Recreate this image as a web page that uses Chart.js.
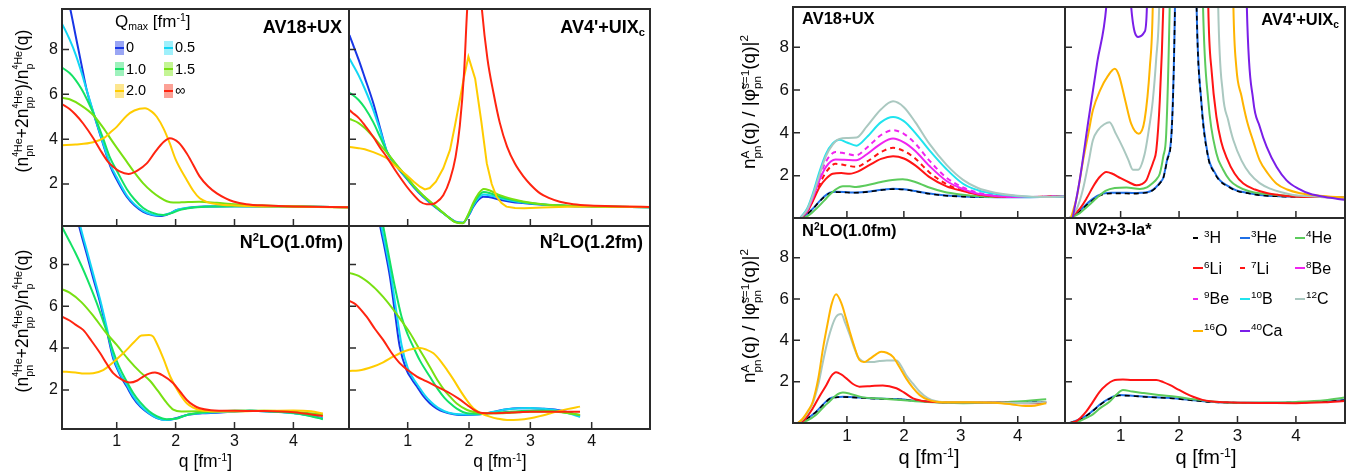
<!DOCTYPE html>
<html><head><meta charset="utf-8">
<script src="https://cdn.jsdelivr.net/npm/chart.js@4.4.1/dist/chart.umd.min.js"></script>
<style>
body{margin:0;width:1354px;height:473px;background:#fff;position:relative;overflow:hidden;font-family:"Liberation Sans",Arial,sans-serif;color:#000;}
.t{position:absolute;white-space:nowrap;line-height:1;}
.t sup{font-size:0.62em;vertical-align:0.6em;line-height:0;}
.t sub{font-size:0.62em;vertical-align:-0.25em;line-height:0;}
.ss{display:inline-block;vertical-align:-0.5em;font-size:0.62em;line-height:1.05;text-align:left;}
.ss>span{display:block;}
.s4{font-size:0.78em;vertical-align:0.45em;line-height:0;}
.sw{position:absolute;}
</style></head><body>
<div id="charts"></div>
<script>
// ---------- tick labels / categories ----------
const X_TICKS = [1, 2, 3, 4];
const Y_TICKS = [2, 4, 6, 8];
const QMAX_LABELS = ['0', '0.5', '1.0', '1.5', '2.0', '\u221e'];
const NUC_A = ['3', '3', '4', '6', '7', '8', '9', '10', '12', '16', '40'];
const NUC_SYM = ['H', 'He', 'He', 'Li', 'Li', 'Be', 'Be', 'B', 'C', 'O', 'Ca'];
const LEFT_TITLES = ['AV18+UX', "AV4'+UIX<sub>c</sub>", 'N<sup>2</sup>LO(1.0fm)', 'N<sup>2</sup>LO(1.2fm)'];
const RIGHT_TITLES = ['AV18+UX', "AV4'+UIX<sub>c</sub>", 'N<sup>2</sup>LO(1.0fm)', 'NV2+3-Ia*'];

// ---------- left figure: AV18+UX ----------
const L_AV18_Q0 = [[0.07,11.3],[0.2,9.95],[0.3,8.65],[0.4,7.35],[0.49,6.2],[0.63,4.95],[0.76,3.85],[0.89,2.8],[1.0,2.2],[1.17,1.43],[1.3,1.05],[1.45,0.76],[1.6,0.62],[1.74,0.57],[1.88,0.66],[2.02,0.84],[2.2,0.93],[2.5,0.99],[3.0,1.01],[4.0,1.0],[4.95,0.96]];
const L_AV18_Q05 = [[0.07,9.15],[0.12,8.9],[0.2,8.45],[0.3,7.8],[0.4,7.0],[0.5,6.1],[0.63,4.98],[0.76,3.9],[0.89,2.88],[1.0,2.3],[1.17,1.5],[1.3,1.1],[1.45,0.8],[1.6,0.64],[1.76,0.6],[1.9,0.69],[2.03,0.85],[2.2,0.94],[2.5,0.99],[3.0,1.01],[4.0,1.0],[4.95,0.96]];
const L_AV18_Q10 = [[0.07,7.2],[0.2,6.95],[0.3,6.65],[0.4,6.25],[0.5,5.75],[0.63,5.0],[0.76,4.1],[0.89,3.15],[1.0,2.6],[1.17,1.78],[1.3,1.32],[1.45,0.93],[1.6,0.72],[1.79,0.62],[1.95,0.72],[2.1,0.86],[2.3,0.95],[2.6,1.0],[3.0,1.01],[4.0,1.0],[4.95,0.96]];
const L_AV18_Q15 = [[0.07,5.85],[0.2,5.78],[0.4,5.5],[0.6,5.08],[0.8,4.4],[0.9,4.0],[1.0,3.62],[1.17,3.0],[1.3,2.52],[1.45,2.03],[1.6,1.65],[1.73,1.4],[1.85,1.23],[1.96,1.17],[2.1,1.18],[2.4,1.21],[2.7,1.16],[3.0,1.1],[3.5,1.04],[4.0,1.0],[4.95,0.96]];
const L_AV18_Q20 = [[0.07,3.73],[0.3,3.76],[0.6,3.86],[0.8,4.08],[0.89,4.3],[1.0,4.55],[1.17,5.05],[1.3,5.28],[1.48,5.38],[1.6,5.22],[1.68,5.0],[1.8,4.45],[1.9,3.82],[2.0,3.1],[2.19,2.18],[2.3,1.7],[2.41,1.36],[2.55,1.18],[2.7,1.1],[3.0,1.04],[3.5,1.0],[4.0,0.99],[4.95,0.95]];
const L_AV18_QINF = [[0.07,5.57],[0.2,5.35],[0.3,5.1],[0.43,4.7],[0.6,4.05],[0.72,3.52],[0.85,3.0],[0.94,2.77],[1.05,2.56],[1.2,2.45],[1.35,2.6],[1.51,2.92],[1.65,3.42],[1.8,3.88],[1.9,4.04],[2.05,3.85],[2.19,3.36],[2.3,2.85],[2.41,2.33],[2.55,1.9],[2.7,1.58],[2.85,1.36],[2.98,1.22],[3.2,1.1],[3.55,1.04],[4.0,1.0],[4.95,0.96]];

// ---------- left figure: AV4'+UIXc ----------
const L_AV4_Q0 = [[0.05,8.65],[0.09,8.35],[0.2,7.55],[0.3,6.75],[0.44,5.6],[0.55,4.5],[0.66,3.45],[0.8,2.85],[0.98,2.25],[1.1,1.85],[1.25,1.43],[1.4,1.08],[1.53,0.8],[1.65,0.55],[1.77,0.33],[1.9,0.27],[2.0,0.62],[2.07,0.99],[2.15,1.28],[2.23,1.43],[2.32,1.42],[2.5,1.3],[2.7,1.2],[2.88,1.15],[3.2,1.07],[3.6,1.02],[4.0,1.0],[4.95,0.96]];
const L_AV4_Q05 = [[0.05,7.6],[0.09,7.4],[0.2,6.85],[0.3,6.25],[0.44,5.3],[0.55,4.4],[0.66,3.45],[0.8,2.87],[0.98,2.28],[1.1,1.88],[1.25,1.46],[1.4,1.1],[1.53,0.81],[1.65,0.55],[1.77,0.32],[1.9,0.27],[2.0,0.65],[2.07,1.04],[2.15,1.36],[2.24,1.53],[2.33,1.5],[2.5,1.37],[2.7,1.25],[2.88,1.17],[3.2,1.08],[3.6,1.02],[4.0,1.0],[4.95,0.96]];
const L_AV4_Q10 = [[0.05,6.07],[0.09,6.0],[0.2,5.75],[0.3,5.4],[0.44,4.75],[0.55,4.1],[0.66,3.45],[0.8,2.9],[0.98,2.3],[1.1,1.9],[1.25,1.48],[1.4,1.12],[1.53,0.82],[1.65,0.55],[1.77,0.31],[1.9,0.26],[2.0,0.68],[2.07,1.1],[2.15,1.45],[2.24,1.64],[2.33,1.6],[2.5,1.43],[2.7,1.29],[2.88,1.2],[3.2,1.09],[3.6,1.03],[4.0,1.0],[4.95,0.96]];
const L_AV4_Q15 = [[0.05,4.9],[0.09,4.86],[0.2,4.72],[0.3,4.5],[0.44,4.1],[0.55,3.75],[0.66,3.4],[0.8,2.92],[0.98,2.33],[1.1,1.93],[1.25,1.5],[1.4,1.14],[1.53,0.83],[1.65,0.55],[1.77,0.3],[1.9,0.25],[2.0,0.72],[2.07,1.17],[2.15,1.55],[2.24,1.78],[2.33,1.72],[2.5,1.5],[2.7,1.33],[2.88,1.22],[3.2,1.1],[3.6,1.03],[4.0,1.0],[4.95,0.96]];
const L_AV4_Q20 = [[0.05,3.65],[0.09,3.64],[0.2,3.6],[0.3,3.55],[0.44,3.42],[0.55,3.3],[0.66,3.15],[0.8,2.8],[0.98,2.4],[1.1,2.1],[1.2,1.88],[1.28,1.76],[1.36,1.82],[1.46,2.1],[1.58,2.7],[1.69,3.52],[1.77,4.6],[1.85,5.75],[1.92,6.8],[1.99,7.68],[2.1,6.7],[2.2,4.8],[2.29,2.92],[2.37,2.0],[2.45,1.43],[2.53,1.15],[2.61,0.99],[2.75,0.93],[2.9,0.92],[3.2,0.95],[3.6,0.98],[4.0,0.99],[4.95,0.97]];
const L_AV4_QINF = [[0.05,5.3],[0.09,5.2],[0.2,4.95],[0.3,4.62],[0.44,4.1],[0.55,3.62],[0.66,3.2],[0.8,2.6],[0.98,1.9],[1.1,1.5],[1.2,1.22],[1.31,1.1],[1.4,1.1],[1.46,1.17],[1.58,1.5],[1.69,2.2],[1.78,3.2],[1.85,4.6],[1.92,7.0],[1.97,9.8],[2.05,12.5],[2.15,12.0],[2.21,9.8],[2.3,7.6],[2.4,6.05],[2.5,4.75],[2.62,3.67],[2.75,2.9],[2.89,2.33],[3.0,1.98],[3.16,1.58],[3.3,1.38],[3.48,1.21],[3.7,1.1],[3.97,1.04],[4.5,1.0],[4.95,0.97]];

// ---------- left figure: N2LO(1.0fm) ----------
const L_N10_Q0 = [[0.3,10.6],[0.36,9.85],[0.5,8.4],[0.6,7.35],[0.72,6.15],[0.83,4.85],[0.94,3.5],[1.05,2.75],[1.17,2.16],[1.28,1.62],[1.4,1.2],[1.55,0.86],[1.68,0.65],[1.85,0.56],[2.0,0.64],[2.19,0.8],[2.45,0.88],[2.7,0.91],[3.0,0.96],[3.26,1.0],[3.6,0.97],[4.0,0.9],[4.25,0.8],[4.5,0.63]];
const L_N10_Q05 = [[0.3,10.9],[0.38,9.85],[0.5,8.6],[0.6,7.55],[0.72,6.3],[0.83,5.0],[0.94,3.62],[1.05,2.82],[1.17,2.25],[1.28,1.7],[1.4,1.26],[1.55,0.88],[1.68,0.66],[1.82,0.56],[2.0,0.62],[2.19,0.8],[2.45,0.89],[2.7,0.93],[3.0,0.97],[3.26,1.0],[3.6,0.97],[4.0,0.88],[4.25,0.78],[4.5,0.62]];
const L_N10_Q10 = [[0.07,9.8],[0.2,9.1],[0.3,8.55],[0.4,7.95],[0.5,7.3],[0.6,6.6],[0.72,5.7],[0.83,4.8],[0.94,3.85],[1.05,3.05],[1.17,2.4],[1.28,1.85],[1.4,1.4],[1.55,0.98],[1.68,0.75],[1.85,0.6],[2.0,0.62],[2.19,0.8],[2.45,0.92],[2.7,0.97],[3.0,1.0],[3.3,1.0],[3.6,0.97],[4.0,0.9],[4.25,0.78],[4.5,0.6]];
const L_N10_Q15 = [[0.07,6.82],[0.2,6.65],[0.4,6.2],[0.6,5.55],[0.8,4.8],[1.0,4.15],[1.2,3.45],[1.4,2.85],[1.56,2.45],[1.7,1.95],[1.85,1.38],[1.96,1.06],[2.1,0.97],[2.5,0.98],[3.0,1.0],[3.5,1.0],[4.0,0.95],[4.5,0.82]];
const L_N10_Q20 = [[0.07,2.88],[0.3,2.83],[0.45,2.78],[0.6,2.8],[0.77,2.95],[0.95,3.35],[1.11,3.75],[1.3,4.3],[1.42,4.6],[1.55,4.63],[1.62,4.55],[1.68,4.23],[1.8,3.45],[1.91,2.63],[2.05,1.9],[2.19,1.36],[2.3,1.15],[2.41,1.04],[2.7,0.97],[3.0,0.97],[3.5,1.0],[4.0,1.02],[4.3,0.98],[4.5,0.87]];
const L_N10_QINF = [[0.07,5.51],[0.2,5.32],[0.3,5.12],[0.43,4.87],[0.57,4.35],[0.72,3.75],[0.83,3.25],[0.94,2.8],[1.08,2.5],[1.22,2.35],[1.35,2.45],[1.45,2.64],[1.55,2.78],[1.65,2.83],[1.78,2.7],[1.96,2.32],[2.08,1.9],[2.19,1.52],[2.3,1.27],[2.41,1.12],[2.6,1.03],[3.0,1.0],[3.5,0.99],[4.0,0.93],[4.5,0.75]];

// ---------- left figure: N2LO(1.2fm) ----------
const L_N12_Q0 = [[0.45,11.5],[0.55,9.85],[0.63,8.7],[0.71,7.42],[0.79,5.75],[0.87,4.07],[0.98,2.96],[1.07,2.5],[1.15,2.16],[1.25,1.72],[1.36,1.36],[1.47,1.12],[1.58,0.96],[1.75,0.84],[1.91,0.8],[2.18,0.83],[2.4,0.95],[2.62,1.08],[2.8,1.12],[3.0,1.12],[3.2,1.1],[3.44,1.04],[3.6,0.94],[3.81,0.75]];
const L_N12_Q05 = [[0.47,11.5],[0.57,9.85],[0.65,8.7],[0.73,7.45],[0.81,5.85],[0.9,4.15],[1.0,3.05],[1.09,2.55],[1.17,2.2],[1.27,1.78],[1.38,1.42],[1.49,1.15],[1.6,0.98],[1.75,0.86],[1.91,0.82],[2.18,0.84],[2.4,0.95],[2.62,1.07],[2.8,1.12],[3.0,1.13],[3.2,1.1],[3.44,1.02],[3.6,0.9],[3.81,0.7]];
const L_N12_Q10 = [[0.5,11.5],[0.6,9.85],[0.7,8.3],[0.8,6.8],[0.9,5.5],[1.0,4.65],[1.09,4.07],[1.2,3.4],[1.36,2.64],[1.5,2.0],[1.6,1.62],[1.69,1.36],[1.8,1.1],[1.97,0.88],[2.2,0.86],[2.5,0.92],[2.8,0.98],[3.0,1.0],[3.2,1.0],[3.44,0.97],[3.6,0.9],[3.81,0.8]];
const L_N12_Q15 = [[0.05,7.6],[0.2,7.45],[0.44,6.94],[0.6,6.45],[0.77,5.83],[0.9,5.3],[1.04,4.71],[1.2,3.9],[1.36,3.11],[1.5,2.4],[1.6,1.98],[1.69,1.68],[1.8,1.35],[1.97,1.04],[2.2,0.9],[2.45,0.88],[2.8,0.93],[3.0,0.96],[3.3,0.97],[3.6,0.9],[3.81,0.8]];
const L_N12_Q20 = [[0.05,2.91],[0.2,2.93],[0.44,3.12],[0.6,3.32],[0.77,3.6],[0.95,3.85],[1.1,3.97],[1.2,4.0],[1.3,3.93],[1.42,3.75],[1.53,3.4],[1.64,2.96],[1.75,2.48],[1.85,2.0],[1.96,1.52],[2.07,1.12],[2.2,0.88],[2.34,0.72],[2.47,0.62],[2.62,0.56],[2.8,0.57],[3.0,0.64],[3.2,0.78],[3.43,0.96],[3.6,1.08],[3.81,1.2]];
const L_N12_QINF = [[0.05,6.26],[0.15,6.1],[0.33,5.5],[0.47,4.9],[0.6,4.39],[0.73,3.8],[0.87,3.28],[1.0,2.95],[1.15,2.64],[1.3,2.42],[1.42,2.24],[1.55,2.05],[1.69,1.84],[1.83,1.58],[1.97,1.28],[2.08,1.05],[2.18,0.91],[2.4,0.88],[2.7,0.92],[3.0,0.95],[3.4,0.96],[3.81,0.96]];

// ---------- right figure: AV18+UX ----------
const R_AV18_H3 = [[0.18,0.02],[0.3,0.19],[0.4,0.44],[0.5,0.74],[0.6,1.0],[0.7,1.18],[0.8,1.23],[0.95,1.22],[1.1,1.2],[1.25,1.21],[1.45,1.27],[1.65,1.34],[1.81,1.37],[2.0,1.35],[2.2,1.27],[2.45,1.15],[2.7,1.07],[3.04,1.02],[3.4,1.0],[4.0,0.99],[4.4,1.0],[4.83,1.04]];
const R_AV18_HE3 = [[0.18,0.02],[0.3,0.2],[0.4,0.45],[0.5,0.75],[0.6,1.02],[0.7,1.2],[0.8,1.25],[0.95,1.24],[1.1,1.21],[1.25,1.22],[1.45,1.28],[1.65,1.35],[1.81,1.39],[2.0,1.36],[2.2,1.28],[2.45,1.16],[2.7,1.08],[3.04,1.03],[3.4,1.0],[4.0,0.99],[4.4,1.0],[4.83,1.04]];
const R_AV18_HE4 = [[0.18,0.02],[0.3,0.1],[0.4,0.3],[0.5,0.55],[0.6,0.83],[0.7,1.12],[0.8,1.35],[0.93,1.5],[1.05,1.5],[1.16,1.47],[1.35,1.55],[1.6,1.7],[1.8,1.8],[1.98,1.83],[2.2,1.7],[2.42,1.47],[2.7,1.25],[3.0,1.12],[3.3,1.04],[3.7,1.0],[4.2,1.0],[4.83,1.04]];
const R_AV18_LI6 = [[0.18,0.02],[0.3,0.3],[0.4,0.8],[0.52,1.47],[0.63,1.85],[0.75,2.09],[0.9,2.12],[1.05,2.09],[1.2,2.2],[1.4,2.5],[1.6,2.78],[1.81,2.9],[2.0,2.8],[2.2,2.48],[2.45,1.93],[2.75,1.5],[3.04,1.28],[3.3,1.12],[3.6,1.03],[4.0,1.0],[4.83,1.03]];
const R_AV18_LI7 = [[0.18,0.02],[0.3,0.32],[0.4,0.85],[0.52,1.6],[0.63,2.15],[0.8,2.55],[0.95,2.5],[1.16,2.41],[1.35,2.65],[1.6,3.1],[1.81,3.3],[2.0,3.15],[2.2,2.8],[2.45,2.15],[2.75,1.6],[3.04,1.3],[3.3,1.13],[3.6,1.04],[4.0,1.0],[4.83,1.03]];
const R_AV18_BE8 = [[0.18,0.02],[0.3,0.35],[0.4,0.95],[0.52,1.8],[0.63,2.4],[0.8,2.75],[0.95,2.74],[1.16,2.72],[1.35,3.0],[1.6,3.5],[1.81,3.73],[2.0,3.55],[2.2,3.15],[2.45,2.45],[2.75,1.75],[3.04,1.37],[3.3,1.15],[3.6,1.05],[4.0,1.0],[4.83,1.03]];
const R_AV18_BE9 = [[0.18,0.02],[0.3,0.4],[0.4,1.0],[0.52,1.95],[0.63,2.65],[0.8,3.1],[0.95,3.05],[1.16,2.95],[1.35,3.3],[1.6,3.9],[1.81,4.12],[2.0,3.95],[2.2,3.5],[2.45,2.7],[2.75,1.9],[3.04,1.45],[3.3,1.2],[3.6,1.07],[4.0,1.0],[4.83,1.03]];
const R_AV18_B10 = [[0.18,0.02],[0.3,0.45],[0.4,1.15],[0.52,2.2],[0.63,3.0],[0.75,3.5],[0.87,3.68],[1.0,3.55],[1.17,3.4],[1.35,3.8],[1.6,4.5],[1.81,4.74],[2.0,4.55],[2.2,4.0],[2.45,3.18],[2.75,2.3],[3.04,1.62],[3.3,1.32],[3.6,1.15],[4.0,1.04],[4.5,1.0],[4.83,1.03]];
const R_AV18_C12 = [[0.18,0.02],[0.3,0.4],[0.4,1.05],[0.52,2.05],[0.63,2.9],[0.75,3.45],[0.87,3.72],[1.0,3.76],[1.17,3.78],[1.35,4.3],[1.6,5.1],[1.81,5.47],[2.0,5.2],[2.2,4.5],[2.45,3.48],[2.75,2.5],[3.04,1.8],[3.3,1.42],[3.6,1.2],[4.0,1.06],[4.5,1.0],[4.83,1.02]];

// ---------- right figure: AV4'+UIXc ----------
const R_AV4_H3 = [[0.125,0.02],[0.3,0.32],[0.45,0.7],[0.6,1.0],[0.7,1.12],[0.85,1.17],[1.0,1.17],[1.2,1.16],[1.35,1.18],[1.5,1.24],[1.6,1.42],[1.68,1.67],[1.73,1.88],[1.8,2.75],[1.87,3.9],[1.93,9.9],[1.97,20],[2.25,20],[2.3,9.9],[2.38,5.45],[2.5,2.82],[2.6,2.15],[2.7,1.75],[2.85,1.47],[2.98,1.29],[3.2,1.17],[3.38,1.09],[3.7,1.03],[3.95,1.01],[4.4,1.0],[4.83,0.98]];
const R_AV4_HE3 = [[0.125,0.02],[0.3,0.35],[0.45,0.75],[0.6,1.05],[0.7,1.16],[0.85,1.2],[1.0,1.2],[1.2,1.19],[1.35,1.2],[1.5,1.26],[1.6,1.45],[1.68,1.7],[1.73,1.9],[1.8,2.8],[1.87,3.96],[1.93,9.9],[1.97,20],[2.25,20],[2.3,9.9],[2.38,5.5],[2.5,2.87],[2.6,2.2],[2.7,1.78],[2.85,1.5],[2.98,1.31],[3.2,1.18],[3.38,1.1],[3.7,1.04],[3.95,1.02],[4.4,1.0],[4.83,0.98]];
const R_AV4_HE4 = [[0.15,0.02],[0.3,0.25],[0.45,0.6],[0.6,0.98],[0.75,1.3],[0.9,1.42],[1.1,1.45],[1.33,1.38],[1.45,1.45],[1.55,1.65],[1.62,1.85],[1.67,2.09],[1.73,2.9],[1.78,3.96],[1.84,9.9],[1.9,20],[2.35,20],[2.41,9.9],[2.5,5.5],[2.64,3.03],[2.75,2.3],[2.87,1.78],[3.0,1.5],[3.2,1.27],[3.4,1.16],[3.66,1.1],[4.0,1.04],[4.4,1.01],[4.83,0.98]];
const R_AV4_LI6 = [[0.13,0.02],[0.3,0.45],[0.42,0.95],[0.525,1.47],[0.63,1.9],[0.755,2.17],[0.85,2.1],[1.0,1.88],[1.15,1.68],[1.27,1.55],[1.36,1.6],[1.44,1.78],[1.5,2.2],[1.56,2.65],[1.61,3.18],[1.67,5.5],[1.73,9.9],[1.8,20],[2.45,20],[2.5,9.9],[2.56,6.8],[2.64,4.74],[2.72,3.6],[2.81,2.87],[2.95,2.1],[3.1,1.63],[3.3,1.35],[3.5,1.19],[3.7,1.1],[3.95,1.03],[4.4,1.0],[4.83,0.98]];
const R_AV4_C12 = [[0.13,0.02],[0.25,0.45],[0.35,1.3],[0.45,2.6],[0.525,3.65],[0.62,4.15],[0.72,4.4],[0.81,4.5],[0.92,3.95],[1.04,3.3],[1.13,2.75],[1.21,2.28],[1.3,2.28],[1.41,3.0],[1.48,4.1],[1.55,5.5],[1.61,7.5],[1.66,9.9],[1.72,20],[2.62,20],[2.67,9.9],[2.75,5.83],[2.84,4.6],[2.93,3.65],[3.07,2.7],[3.21,2.09],[3.38,1.65],[3.56,1.39],[3.75,1.22],[3.95,1.1],[4.3,1.03],[4.83,0.98]];
const R_AV4_O16 = [[0.15,0.02],[0.25,1.0],[0.35,2.6],[0.45,4.0],[0.525,5.05],[0.65,6.0],[0.78,6.65],[0.9,7.0],[0.97,6.7],[1.08,5.5],[1.18,4.43],[1.31,3.96],[1.41,4.6],[1.5,7.07],[1.55,9.9],[1.6,20],[2.88,20],[2.93,9.9],[2.98,7.07],[3.07,5.7],[3.16,4.58],[3.27,3.6],[3.38,2.71],[3.52,2.1],[3.67,1.62],[3.85,1.35],[4.07,1.18],[4.4,1.06],[4.83,0.98]];
const R_AV4_CA40 = [[0.18,0.02],[0.3,1.8],[0.45,4.6],[0.6,7.3],[0.755,9.9],[0.85,14],[1.1,14],[1.18,9.9],[1.3,8.48],[1.41,8.72],[1.45,9.9],[1.5,20],[3.1,20],[3.16,9.9],[3.27,5.5],[3.38,4.3],[3.5,3.34],[3.67,2.4],[3.84,1.78],[4.05,1.38],[4.24,1.15],[4.5,1.0],[4.83,0.87]];

// ---------- right figure: N2LO(1.0fm) ----------
const R_N10_H3 = [[0.14,0.0],[0.3,0.21],[0.46,0.54],[0.6,0.93],[0.7,1.17],[0.8,1.24],[0.93,1.26],[1.1,1.24],[1.28,1.21],[1.5,1.18],[1.87,1.15],[2.2,1.07],[2.46,1.02],[2.8,0.99],[3.04,0.98],[3.5,0.99],[4.0,1.0],[4.5,1.0]];
const R_N10_HE3 = [[0.14,0.0],[0.3,0.22],[0.46,0.55],[0.6,0.95],[0.7,1.19],[0.8,1.25],[0.93,1.27],[1.1,1.25],[1.28,1.22],[1.5,1.19],[1.87,1.16],[2.2,1.08],[2.46,1.03],[2.8,0.99],[3.04,0.98],[3.5,0.99],[4.0,1.0],[4.5,1.0]];
const R_N10_HE4 = [[0.14,0.0],[0.3,0.12],[0.46,0.4],[0.6,0.8],[0.69,1.03],[0.8,1.32],[0.93,1.47],[1.05,1.42],[1.28,1.24],[1.6,1.18],[1.87,1.13],[2.3,1.04],[2.7,0.98],[3.04,0.96],[3.5,0.98],[4.0,1.04],[4.5,1.15]];
const R_N10_LI6 = [[0.14,0.0],[0.25,0.15],[0.4,0.71],[0.52,1.3],[0.64,1.84],[0.72,2.25],[0.81,2.45],[0.9,2.35],[0.99,2.16],[1.1,1.9],[1.22,1.76],[1.4,1.78],[1.63,1.82],[1.87,1.68],[2.0,1.48],[2.16,1.19],[2.3,1.08],[2.46,1.03],[2.8,1.0],[3.2,1.0],[3.6,0.99],[4.0,0.97],[4.3,0.95],[4.5,1.0]];
const R_N10_C12 = [[0.14,0.0],[0.23,0.2],[0.32,0.55],[0.4,0.95],[0.5,1.9],[0.58,2.98],[0.66,3.95],[0.74,4.7],[0.81,5.14],[0.9,5.27],[0.97,4.85],[1.05,4.26],[1.12,3.7],[1.19,3.21],[1.27,3.0],[1.34,2.95],[1.45,2.95],[1.57,3.0],[1.7,3.03],[1.87,3.02],[1.96,2.72],[2.04,2.32],[2.16,1.9],[2.28,1.51],[2.42,1.2],[2.57,1.05],[2.8,1.0],[3.2,1.0],[3.6,0.99],[4.0,0.97],[4.3,0.98],[4.5,1.02]];
const R_N10_O16 = [[0.14,0.0],[0.23,0.23],[0.32,0.6],[0.4,1.03],[0.5,2.2],[0.58,3.61],[0.66,4.8],[0.73,5.74],[0.81,6.23],[0.91,5.74],[0.98,5.1],[1.05,4.42],[1.13,3.7],[1.22,3.05],[1.3,2.95],[1.4,3.1],[1.5,3.3],[1.6,3.45],[1.7,3.4],[1.81,3.2],[1.92,2.72],[2.04,2.16],[2.16,1.7],[2.28,1.35],[2.42,1.13],[2.57,1.03],[2.8,1.0],[3.2,1.01],[3.6,0.98],[3.9,0.9],[4.14,0.82],[4.3,0.84],[4.5,0.96]];

// ---------- right figure: NV2+3-Ia* ----------
const R_NV2_H3 = [[0.125,0.0],[0.25,0.11],[0.4,0.32],[0.525,0.58],[0.65,0.88],[0.81,1.17],[0.98,1.33],[1.2,1.31],[1.44,1.26],[1.7,1.22],[1.95,1.18],[2.25,1.09],[2.53,1.02],[2.8,0.99],[3.1,0.98],[3.5,0.98],[4.0,0.99],[4.5,1.03],[4.83,1.1]];
const R_NV2_HE3 = [[0.125,0.0],[0.25,0.12],[0.4,0.33],[0.525,0.6],[0.65,0.9],[0.81,1.19],[0.98,1.35],[1.2,1.32],[1.44,1.27],[1.7,1.23],[1.95,1.19],[2.25,1.1],[2.53,1.03],[2.8,0.99],[3.1,0.98],[3.5,0.98],[4.0,0.99],[4.5,1.04],[4.83,1.11]];
const R_NV2_HE4 = [[0.14,0.0],[0.3,0.1],[0.45,0.3],[0.525,0.42],[0.65,0.72],[0.81,1.03],[0.92,1.35],[1.04,1.6],[1.2,1.52],[1.39,1.45],[1.65,1.36],[1.95,1.27],[2.25,1.15],[2.53,1.05],[2.8,0.99],[3.1,0.98],[3.5,0.99],[4.0,1.02],[4.5,1.1],[4.83,1.23]];
const R_NV2_LI6 = [[0.14,0.0],[0.25,0.1],[0.41,0.55],[0.52,1.0],[0.64,1.51],[0.76,1.85],[0.87,2.05],[1.04,2.1],[1.2,2.08],[1.38,2.08],[1.61,2.08],[1.73,1.98],[1.84,1.84],[2.0,1.6],[2.12,1.42],[2.24,1.27],[2.4,1.12],[2.53,1.05],[2.8,1.0],[3.1,0.98],[3.5,0.97],[4.0,0.96],[4.5,1.0],[4.83,1.06]];

// ---------- styles ----------
const FONT = '"Liberation Sans", Arial, sans-serif';
const QC = ['#1836e6', '#12d6f4', '#14e264', '#78e012', '#ffcc00', '#ff2410'];
const QBOX = ['#9aa6f4', '#9ff0fb', '#9ef2bd', '#c4f594', '#fde68f', '#fca196'];
const NC = {H3:'#000000', HE3:'#1f6fe6', HE4:'#5ccb5c', LI6:'#ff1414', LI7:'#ff1414', BE8:'#f024f0', BE9:'#f024f0', B10:'#20e4ee', C12:'#aac8c0', O16:'#ffb400', CA40:'#7a1ee8'};
const DASH = [5, 4];

function qs(arrs, lin) { return arrs.map((d, i) => ({d, c: QC[i], w: 2, lin: lin && lin[i]})); }
function ns(obj) { // draw order bottom->top
  return obj.map(([key, d]) => ({d, c: NC[key], w: key === 'H3' ? 1.6 : 2, dash: (key === 'H3' || key === 'LI7' || key === 'BE9') ? DASH : null}));
}

const PANELS = [
  {frame:[62,9,349,226], xr:[0.071,4.944], yr:[0.125,9.81], showX:false, showY:true, fs:16,
   series: qs([L_AV18_Q0, L_AV18_Q05, L_AV18_Q10, L_AV18_Q15, L_AV18_Q20, L_AV18_QINF])},
  {frame:[349,9,650,226], xr:[0.043,4.951], yr:[0.125,9.81], showX:false, showY:false, fs:16,
   series: qs([L_AV4_Q0, L_AV4_Q05, L_AV4_Q10, L_AV4_Q15, L_AV4_Q20, L_AV4_QINF], [0,0,0,0,1,0])},
  {frame:[62,226,349,429], xr:[0.071,4.944], yr:[0.13,9.84], showX:true, showY:true, fs:16,
   series: qs([L_N10_Q0, L_N10_Q05, L_N10_Q10, L_N10_Q15, L_N10_Q20, L_N10_QINF])},
  {frame:[349,226,650,429], xr:[0.043,4.951], yr:[0.13,9.84], showX:true, showY:false, fs:16,
   series: qs([L_N12_Q0, L_N12_Q05, L_N12_Q10, L_N12_Q15, L_N12_Q20, L_N12_QINF])},
  {frame:[793,7,1065,218], xr:[0.053,4.83], yr:[0.02,9.88], showX:false, showY:true, fs:17,
   series: ns([['HE3',R_AV18_HE3],['H3',R_AV18_H3],['HE4',R_AV18_HE4],['LI6',R_AV18_LI6],['LI7',R_AV18_LI7],['BE8',R_AV18_BE8],['BE9',R_AV18_BE9],['B10',R_AV18_B10],['C12',R_AV18_C12]])},
  {frame:[1065,7,1345,218], xr:[0.048,4.84], yr:[0.02,9.88], showX:false, showY:false, fs:17,
   series: ns([['HE3',R_AV4_HE3],['H3',R_AV4_H3],['HE4',R_AV4_HE4],['LI6',R_AV4_LI6],['C12',R_AV4_C12],['O16',R_AV4_O16],['CA40',R_AV4_CA40]])},
  {frame:[793,218,1065,423], xr:[0.053,4.83], yr:[0.0,9.92], showX:true, showY:true, fs:17,
   series: ns([['HE3',R_N10_HE3],['H3',R_N10_H3],['HE4',R_N10_HE4],['LI6',R_N10_LI6],['C12',R_N10_C12],['O16',R_N10_O16]])},
  {frame:[1065,218,1345,423], xr:[0.048,4.84], yr:[0.0,9.92], showX:true, showY:false, fs:17,
   series: ns([['HE3',R_NV2_HE3],['H3',R_NV2_H3],['HE4',R_NV2_HE4],['LI6',R_NV2_LI6]])}
];

const ML = 60, MT = 16, MR = 14, MB = 42, TICK_LEN = 7;
const frameTicks = {
  id: 'frameTicks',
  afterDatasetsDraw(ch) {
    const a = ch.chartArea, x = ch.scales.x, y = ch.scales.y, c = ch.ctx;
    c.save();
    c.strokeStyle = '#2b2b2b';
    c.lineWidth = 1.5;
    c.beginPath();
    x.ticks.forEach(t => { const p = x.getPixelForValue(t.value); c.moveTo(p, a.bottom); c.lineTo(p, a.bottom - TICK_LEN); });
    y.ticks.forEach(t => { const p = y.getPixelForValue(t.value); c.moveTo(a.left, p); c.lineTo(a.left + TICK_LEN, p); });
    c.stroke();
    c.lineWidth = 2;
    c.strokeRect(a.left, a.top, a.right - a.left, a.bottom - a.top);
    c.restore();
  }
};

function makeChart(p) {
  const [l, t, r, b] = p.frame;
  const W = r - l + ML + MR, H = b - t + MT + MB;
  const div = document.createElement('div');
  div.style.cssText = `position:absolute;left:${l - ML}px;top:${t - MT}px;width:${W}px;height:${H}px;`;
  const cv = document.createElement('canvas');
  cv.width = W; cv.height = H; cv.style.width = W + 'px'; cv.style.height = H + 'px';
  div.appendChild(cv);
  document.getElementById('charts').appendChild(div);
  const ds = p.series.map(s => ({
    data: s.d.map(([x, y]) => ({x, y})),
    borderColor: s.c, borderWidth: s.w, borderDash: s.dash || [],
    pointRadius: 0, fill: false,
    tension: s.lin ? 0 : 0.4,
    cubicInterpolationMode: s.lin ? 'default' : 'monotone'
  })).reverse();
  const tickFont = {family: FONT, size: p.fs};
  new Chart(cv, {
    type: 'line',
    data: {datasets: ds},
    options: {
      responsive: false, animation: false, events: [],
      layout: {padding: {top: MT, right: MR, left: 0, bottom: 0}},
      plugins: {legend: {display: false}, tooltip: {enabled: false}},
      scales: {
        x: {type: 'linear', min: p.xr[0], max: p.xr[1],
            afterBuildTicks: s => { s.ticks = X_TICKS.map(v => ({value: v})); },
            afterFit: s => { s.height = MB; },
            grid: {display: false, drawTicks: false}, border: {display: false},
            ticks: {display: p.showX, padding: 3, color: '#111', font: tickFont, maxRotation: 0, autoSkip: false, callback: v => String(v)}},
        y: {type: 'linear', min: p.yr[0], max: p.yr[1],
            afterBuildTicks: s => { s.ticks = Y_TICKS.map(v => ({value: v})); },
            afterFit: s => { s.width = ML; },
            grid: {display: false, drawTicks: false}, border: {display: false},
            ticks: {display: p.showY, padding: 4, color: '#111', font: tickFont, autoSkip: false, callback: v => String(v)}}
      }
    },
    plugins: [frameTicks]
  });
}
PANELS.forEach(makeChart);

// ---------- text helpers ----------
function txt(html, x, baseline, fs, align, bold) {
  const d = document.createElement('div');
  d.className = 't'; d.innerHTML = html;
  d.style.fontSize = fs + 'px';
  if (bold) d.style.fontWeight = 'bold';
  d.style.top = (baseline - 0.85 * fs) + 'px';
  d.style.left = x + 'px';
  if (align === 'right') d.style.transform = 'translateX(-100%)';
  else if (align === 'center') d.style.transform = 'translateX(-50%)';
  document.body.appendChild(d);
  return d;
}
function rtxt(html, cx, cy, fs) {
  const d = document.createElement('div');
  d.className = 't'; d.innerHTML = html;
  d.style.fontSize = fs + 'px';
  d.style.left = cx + 'px'; d.style.top = cy + 'px';
  d.style.transform = 'translate(-50%,-50%) rotate(-90deg)';
  document.body.appendChild(d);
}
function box(x, y, w, h, bg) {
  const d = document.createElement('div');
  d.className = 'sw';
  d.style.cssText += `left:${x}px;top:${y}px;width:${w}px;height:${h}px;background:${bg};`;
  document.body.appendChild(d);
}

// panel titles
txt(LEFT_TITLES[0], 342, 33, 18, 'right', true);
txt(LEFT_TITLES[1], 645, 33, 18, 'right', true);
txt(LEFT_TITLES[2], 343, 248, 18, 'right', true);
txt(LEFT_TITLES[3], 643, 248, 18, 'right', true);
txt(RIGHT_TITLES[0], 802, 24, 16.5, 'left', true);
txt(RIGHT_TITLES[1], 1339, 25, 16.5, 'right', true);
txt(RIGHT_TITLES[2], 802, 236, 16.5, 'left', true);
txt(RIGHT_TITLES[3], 1075, 235, 16.5, 'left', true);

// axis titles
const XT = 'q [fm<sup>-1</sup>]';
txt(XT, 205.5, 468, 17.5, 'center');
txt(XT, 500, 468, 17.5, 'center');
txt(XT, 929, 464, 20, 'center');
txt(XT, 1206, 464, 20, 'center');
const HE = '<span class="s4">4</span>He';
const LYT = `(n<span class="ss"><span>${HE}</span><span>pn</span></span>+2n<span class="ss"><span>${HE}</span><span>pp</span></span>)/n<span class="ss"><span>${HE}</span><span>p</span></span>(q)`;
rtxt(LYT, 24, 101, 17.5);
rtxt(LYT, 24, 321, 17.5);
const RYT = `n<span class="ss"><span>A</span><span>pn</span></span>(q) / |\u03c6\u0303<span class="ss"><span>s=1</span><span>pn</span></span>(q)|<sup>2</sup>`;
rtxt(RYT, 751, 102, 19);
rtxt(RYT, 751, 316, 19);

// left legend
txt('Q<sub>max</sub> [fm<sup>-1</sup>]', 115, 27.5, 17, 'left');
const LROWS = [47.5, 69, 90.5], LCOLS = [115, 164];
QMAX_LABELS.forEach((lab, i) => {
  const cx = LCOLS[i % 2], cy = LROWS[Math.floor(i / 2)];
  box(cx, cy - 7, 9, 14, QBOX[i]);
  box(cx, cy - 1, 9, 2, QC[i]);
  txt(lab, cx + 11, cy + 5, 14.5, 'left');
});

// right legend
const RROWS = [237.7, 268.3, 299, 331], RCOLS = [1193, 1240, 1295];
const NKEYS = ['H3','HE3','HE4','LI6','LI7','BE8','BE9','B10','C12','O16','CA40'];
NKEYS.forEach((k, i) => {
  const cx = RCOLS[i % 3], cy = RROWS[Math.floor(i / 3)];
  const dashed = (k === 'H3' || k === 'LI7' || k === 'BE9');
  box(cx, cy - 1, dashed ? 5 : 10, 2, NC[k]);
  txt(`<sup>${NUC_A[i]}</sup>${NUC_SYM[i]}`, cx + 11, cy + 6, 16, 'left');
});
</script>
</body></html>
